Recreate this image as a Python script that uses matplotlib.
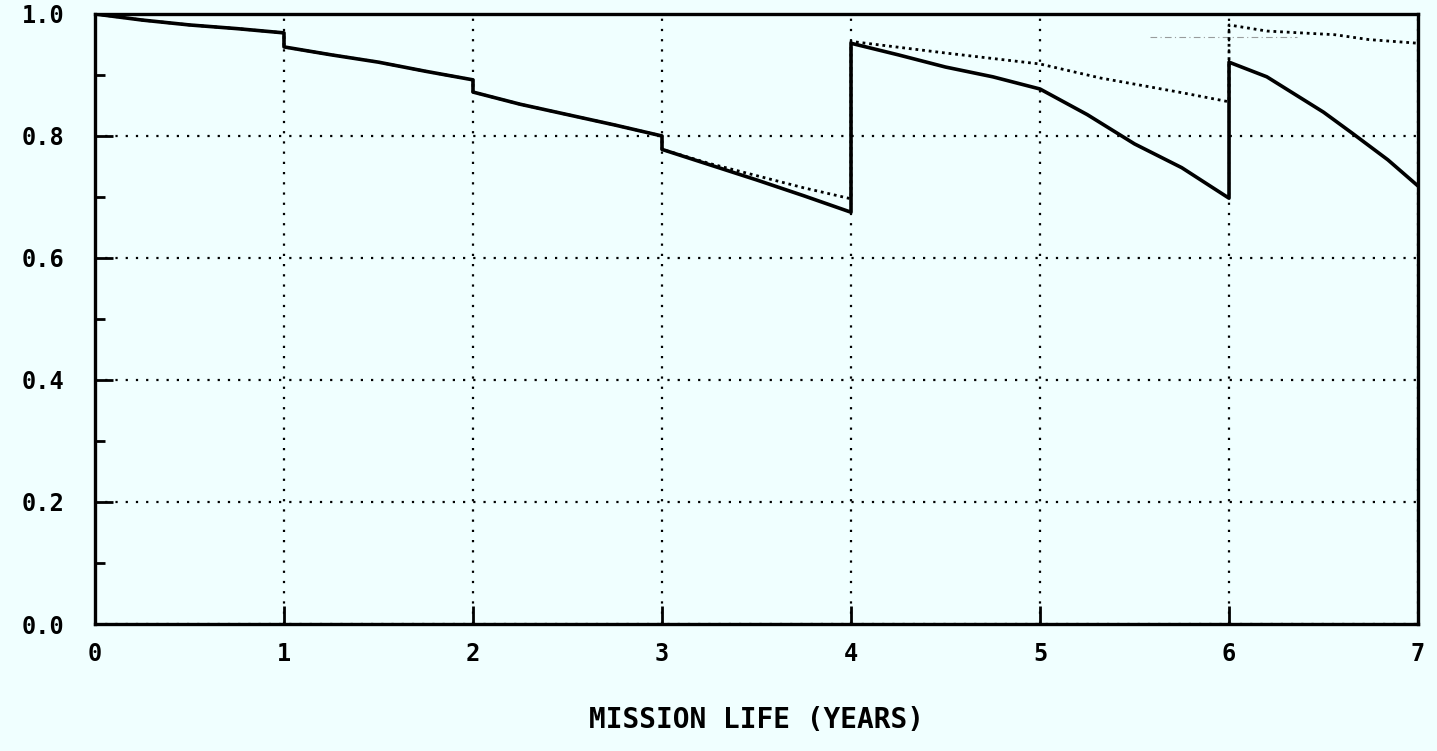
import matplotlib
matplotlib.use("Agg")
import matplotlib.pyplot as plt
from matplotlib.ticker import MultipleLocator

# solid curve (jumps at the replacement points)
solid_x = [0, 0.25, 0.5, 0.75, 1.0, 1.0, 1.25, 1.5, 1.75, 2.0, 2.0, 2.25, 2.5, 2.75, 3.0,
           3.0, 3.25, 3.5, 3.75, 4.0, 4.0, 4.25, 4.5, 4.75, 5.0, 5.25, 5.5, 5.75, 6.0,
           6.0, 6.2, 6.5, 6.65, 6.84, 7.0]
solid_y = [1.0, 0.99, 0.982, 0.976, 0.969, 0.946, 0.933, 0.921, 0.906, 0.892, 0.872, 0.852,
           0.835, 0.818, 0.800, 0.778, 0.753, 0.728, 0.702, 0.675, 0.952, 0.933, 0.913,
           0.897, 0.877, 0.835, 0.787, 0.748, 0.698, 0.921, 0.897, 0.839, 0.805, 0.761, 0.718]

# dotted curve
dot_x = [0, 0.25, 0.5, 0.75, 1.0, 1.0, 1.25, 1.5, 1.75, 2.0, 2.0, 2.25, 2.5, 2.75, 3.0,
         3.0, 3.25, 3.5, 3.75, 4.0, 4.0, 4.5, 5.0, 5.32, 5.5, 5.75, 6.0, 6.0, 6.2, 6.56,
         6.74, 7.0]
dot_y = [1.0, 0.99, 0.982, 0.976, 0.969, 0.946, 0.933, 0.921, 0.906, 0.892, 0.872, 0.852,
         0.835, 0.818, 0.800, 0.778, 0.755, 0.735, 0.715, 0.697, 0.955, 0.936, 0.918,
         0.895, 0.885, 0.871, 0.856, 0.982, 0.972, 0.966, 0.958, 0.952]

# faint trace near the top right
faint_x = [5.58, 6.36]
faint_y = [0.962, 0.962]

xticks = [0, 1, 2, 3, 4, 5, 6, 7]
yticks = [0.0, 0.2, 0.4, 0.6, 0.8, 1.0]
ytick_labels = ["0.0", "0.2", "0.4", "0.6", "0.8", "1.0"]

bg = "#f0ffff"
plt.rcParams["font.family"] = ["DejaVu Sans Mono"]

fig = plt.figure(figsize=(14.37, 7.51), dpi=100, facecolor=bg)
ax = fig.add_axes([0.0661, 0.1691, 0.9207, 0.8123], facecolor=bg)

ax.plot(faint_x, faint_y, color="0.45", lw=0.8, ls=(0, (6, 3, 1, 3)), alpha=0.7)
ax.plot(dot_x, dot_y, color="black", lw=2.0, ls=(0, (1, 1.4)))
ax.plot(solid_x, solid_y, color="black", lw=2.6)

ax.set_xlim(0, 7)
ax.set_ylim(0, 1)
ax.set_xticks(xticks)
ax.set_xticklabels([str(t) for t in xticks])
ax.set_yticks(yticks)
ax.set_yticklabels(ytick_labels)
ax.yaxis.set_minor_locator(MultipleLocator(0.1))

ax.grid(True, which="major", color="black", lw=1.6, ls=(0, (1, 3.6)))
ax.tick_params(which="major", direction="in", length=13, width=2, colors="black",
               labelsize=17)
ax.tick_params(which="minor", direction="in", length=7, width=2, colors="black")
ax.tick_params(axis="y", which="major", pad=22)
ax.tick_params(axis="x", which="major", pad=13)
for lab in ax.get_xticklabels() + ax.get_yticklabels():
    lab.set_fontweight("bold")

for s in ax.spines.values():
    s.set_linewidth(2.4)
    s.set_color("black")

ax.set_xlabel("MISSION LIFE (YEARS)", fontsize=20, fontweight="bold")
ax.xaxis.set_label_coords(0.5, -0.135)

fig.savefig("out.png", dpi=100, facecolor=bg)
